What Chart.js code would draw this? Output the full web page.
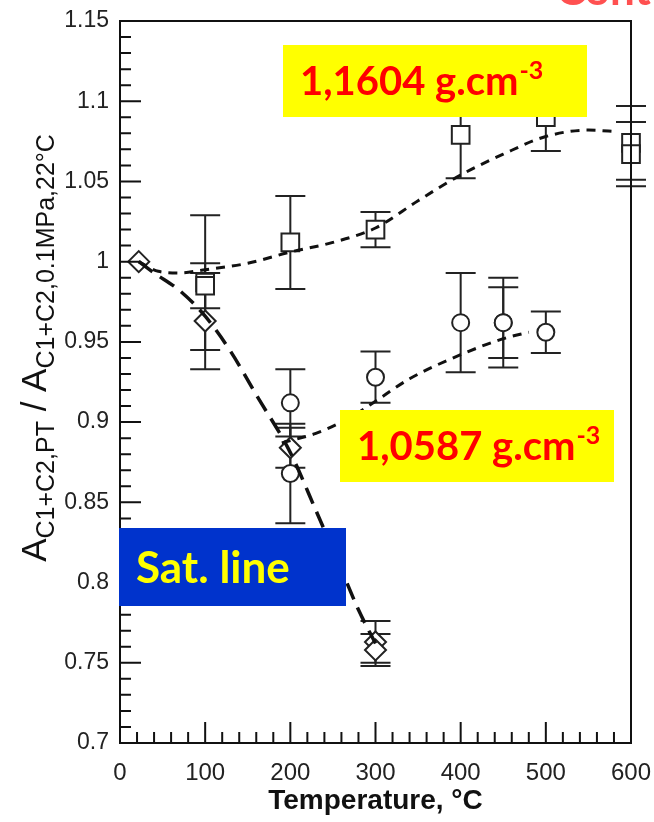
<!DOCTYPE html>
<html>
<head>
<meta charset="utf-8">
<script src="https://cdn.jsdelivr.net/npm/chart.js@4.4.1/dist/chart.umd.min.js"></script>
<style>
  html, body { margin: 0; padding: 0; background: #fff; }
  #wrap { width: 654px; height: 822px; }
</style>
</head>
<body>
<div id="wrap"><canvas id="chart" width="654" height="822"></canvas></div>
<script>
// axis ticks
const xTicks = [0, 100, 200, 300, 400, 500, 600];
const xMinorStep = 20;
const yTicks = [0.7, 0.75, 0.8, 0.85, 0.9, 0.95, 1, 1.05, 1.1, 1.15];
const yTickLabels = ['0.7', '0.75', '0.8', '0.85', '0.9', '0.95', '1', '1.05', '1.1', '1.15'];
const yMinorStep = 0.01;

// 1,1604 g.cm-3 (squares)
const sqT   = [100, 100, 200, 300, 400, 500, 600, 600];
const sqVal = [0.987, 0.985, 1.012, 1.020, 1.079, 1.090, 1.074, 1.067];
const sqErr = [0.042, 0.014, 0.029, 0.011, 0.027, 0.021, 0.023, 0.020];

// 1,0587 g.cm-3 (circles)
const ciT   = [200, 200, 300, 400, 450, 450, 500];
const ciVal = [0.912, 0.868, 0.928, 0.962, 0.962, 0.962, 0.956];
const ciErr = [0.021, 0.031, 0.016, 0.031, 0.028, 0.022, 0.013];

// saturation line (diamonds)
const diT   = [22, 100, 200, 300, 300];
const diVal = [1.000, 0.963, 0.884, 0.763, 0.758];
const diErr = [0, 0.030, 0.0125, 0.013, 0.010];

// dashed trend curves
const sqFitT  = [22, 45, 70, 100, 150, 200, 250, 300, 350, 400, 450, 500, 550, 585];
const sqFitV  = [1.000, 0.994, 0.993, 0.995, 0.999, 1.006, 1.012, 1.021, 1.038, 1.054, 1.067, 1.078, 1.082, 1.081];
const ciFitT  = [190, 230, 260, 280, 300, 340, 400, 450, 480];
const ciFitV  = [0.887, 0.893, 0.900, 0.906, 0.913, 0.927, 0.942, 0.952, 0.956];
const satFitT = [22, 40, 70, 100, 130, 160, 200, 230, 260, 280, 300];
const satFitV = [1.000, 0.993, 0.982, 0.966, 0.944, 0.917, 0.881, 0.845, 0.808, 0.783, 0.762];

const toXY = (xs, ys) => xs.map((t, i) => ({ x: t, y: ys[i] }));

const markerSet = (data, errs, style, radius) => ({
  type: 'scatter',
  data: data,
  errors: errs,
  pointStyle: style,
  pointRadius: radius,
  pointHoverRadius: radius,
  pointBackgroundColor: '#fff',
  pointBorderColor: '#222',
  pointBorderWidth: 2,
  showLine: false,
  clip: false,
  order: 2
});

const curveSet = (data, dash, width) => ({
  type: 'line',
  data: data,
  borderColor: '#111',
  borderWidth: width,
  borderDash: dash,
  pointRadius: 0,
  fill: false,
  tension: 0.4,
  cubicInterpolationMode: 'monotone',
  clip: false,
  order: 1
});

// vertical error bars, drawn under the markers
const errorBars = {
  id: 'errorBars',
  beforeDatasetsDraw(chart) {
    const { ctx, scales: { x, y } } = chart;
    ctx.save();
    ctx.strokeStyle = '#222';
    ctx.lineWidth = 2;
    chart.data.datasets.forEach(ds => {
      if (!ds.errors) return;
      ds.data.forEach((p, j) => {
        const e = ds.errors[j];
        if (!e) return;
        const px = x.getPixelForValue(p.x);
        const top = y.getPixelForValue(p.y + e);
        const bot = y.getPixelForValue(p.y - e);
        ctx.beginPath();
        ctx.moveTo(px, top); ctx.lineTo(px, bot);
        ctx.moveTo(px - 15, top); ctx.lineTo(px + 15, top);
        ctx.moveTo(px - 15, bot); ctx.lineTo(px + 15, bot);
        ctx.stroke();
      });
    });
    ctx.restore();
  }
};

// frame, inward ticks, tick labels and axis titles
const axesFrame = {
  id: 'axesFrame',
  afterDatasetsDraw(chart) {
    const { ctx, chartArea: a, scales: { x, y } } = chart;
    ctx.save();
    ctx.strokeStyle = '#111';
    ctx.lineWidth = 2;
    ctx.strokeRect(a.left, a.top, a.right - a.left, a.bottom - a.top);

    ctx.beginPath();
    for (let v = xTicks[0]; v <= xTicks[xTicks.length - 1] + 0.001; v += xMinorStep) {
      const px = x.getPixelForValue(v);
      const len = (Math.round(v) % 100 === 0) ? 21 : 11;
      ctx.moveTo(px, a.bottom); ctx.lineTo(px, a.bottom - len);
    }
    const nY = Math.round((yTicks[yTicks.length - 1] - yTicks[0]) / yMinorStep);
    for (let k = 0; k <= nY; k++) {
      const v = yTicks[0] + k * yMinorStep;
      const py = y.getPixelForValue(v);
      const len = (k % 5 === 0) ? 21 : 11;
      ctx.moveTo(a.left, py); ctx.lineTo(a.left + len, py);
    }
    ctx.stroke();

    ctx.fillStyle = '#222';
    ctx.font = '23px "Liberation Sans", Arial, sans-serif';
    ctx.textAlign = 'right';
    ctx.textBaseline = 'middle';
    yTicks.forEach((v, i) => ctx.fillText(yTickLabels[i], a.left - 11, y.getPixelForValue(v)));

    ctx.textAlign = 'center';
    ctx.textBaseline = 'middle';
    ctx.font = '24px "Liberation Sans", Arial, sans-serif';
    xTicks.forEach(v => ctx.fillText(String(v), x.getPixelForValue(v), a.bottom + 30));

    ctx.fillStyle = '#111';
    ctx.font = 'bold 28px "Liberation Sans", Arial, sans-serif';
    ctx.fillText('Temperature, \u00B0C', (a.left + a.right) / 2, a.bottom + 58);

    // y title with subscripts
    const parts = [
      ['A', 35, 0], ['C1+C2,PT', 25, 8], [' / ', 35, 0],
      ['A', 35, 0], ['C1+C2,0.1MPa,22\u00B0C', 25, 8]
    ];
    ctx.save();
    ctx.translate(46, 348);
    ctx.rotate(-Math.PI / 2);
    ctx.textAlign = 'left';
    ctx.textBaseline = 'alphabetic';
    let total = 0;
    parts.forEach(p => { ctx.font = p[1] + 'px "Liberation Sans", Arial, sans-serif'; total += ctx.measureText(p[0]).width; });
    let cx = -total / 2;
    parts.forEach(p => {
      ctx.font = p[1] + 'px "Liberation Sans", Arial, sans-serif';
      ctx.fillText(p[0], cx, p[2]);
      cx += ctx.measureText(p[0]).width;
    });
    ctx.restore();
    ctx.restore();
  }
};

// coloured label boxes over the plot
const labelBoxes = {
  id: 'labelBoxes',
  afterDraw(chart) {
    const { ctx } = chart;
    ctx.save();
    const boxText = (x0, y0, w, h, bg, fg, txt, sup, size) => {
      ctx.fillStyle = bg;
      ctx.fillRect(x0, y0, w, h);
      ctx.fillStyle = fg;
      ctx.textAlign = 'left';
      ctx.textBaseline = 'alphabetic';
      ctx.font = 'bold ' + size + 'px Lato, "Open Sans", sans-serif';
      const tx = x0 + 17, ty = y0 + h / 2 + size * 0.36;
      ctx.fillText(txt, tx, ty);
      if (sup) {
        const wTxt = ctx.measureText(txt).width;
        ctx.font = 'bold ' + Math.round(size * 0.62) + 'px Lato, "Open Sans", sans-serif';
        ctx.fillText(sup, tx + wTxt + 1, ty - size * 0.42);
      }
    };
    boxText(283, 45, 304, 72, '#ffff00', '#ff0000', '1,1604 g.cm', '-3', 40);
    boxText(340, 410, 274, 72, '#ffff00', '#ff0000', '1,0587 g.cm', '-3', 40);
    boxText(119, 528, 227, 78, '#0033cc', '#ffff00', 'Sat. line', null, 44);

    // cropped heading at the very top
    ctx.fillStyle = '#ff5050';
    ctx.font = 'bold 44px Lato, sans-serif';
    ctx.fillText('Cont', 556, 5);
    ctx.restore();
  }
};

new Chart(document.getElementById('chart'), {
  data: {
    datasets: [
      curveSet(toXY(sqFitT, sqFitV), [9, 7], 3),
      curveSet(toXY(ciFitT, ciFitV), [9, 7], 3),
      curveSet(toXY(satFitT, satFitV), [17, 9], 3.5),
      markerSet(toXY(sqT, sqVal), sqErr, 'rect', 12.5),
      markerSet(toXY(ciT, ciVal), ciErr, 'circle', 8.5),
      markerSet(toXY(diT, diVal), diErr, 'rectRot', 10.5)
    ]
  },
  options: {
    responsive: false,
    animation: false,
    layout: { padding: { left: 120, top: 21, right: 23, bottom: 79 } },
    plugins: { legend: { display: false }, tooltip: { enabled: false } },
    scales: {
      x: { type: 'linear', min: 0, max: 600, display: false },
      y: { type: 'linear', min: 0.7, max: 1.15, display: false }
    }
  },
  plugins: [errorBars, axesFrame, labelBoxes]
});
</script>
</body>
</html>
